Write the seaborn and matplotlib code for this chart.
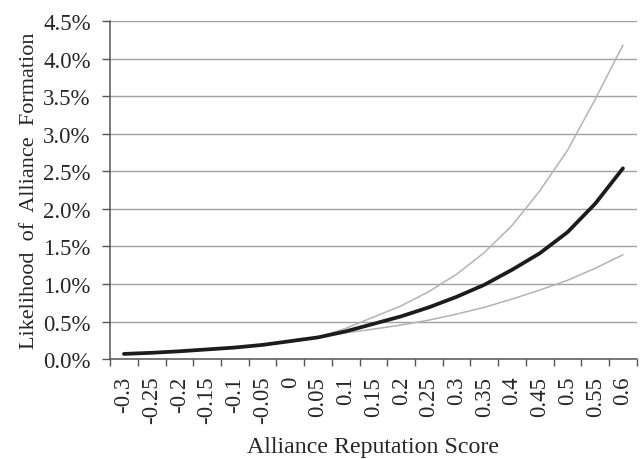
import numpy as np
import pandas as pd
import seaborn as sns
import matplotlib.pyplot as plt
from matplotlib.ticker import FixedLocator, PercentFormatter

# -----------------------------
# Data (likelihood in %)
# -----------------------------
scores = [-0.3, -0.25, -0.2, -0.15, -0.1, -0.05, 0, 0.05, 0.1, 0.15,
          0.2, 0.25, 0.3, 0.35, 0.4, 0.45, 0.5, 0.55, 0.6]
score_labels = ["-0.3", "-0.25", "-0.2", "-0.15", "-0.1", "-0.05", "0", "0.05", "0.1", "0.15",
                "0.2", "0.25", "0.3", "0.35", "0.4", "0.45", "0.5", "0.55", "0.6"]
estimate = [0.07, 0.085, 0.105, 0.13, 0.155, 0.19, 0.24, 0.29, 0.37, 0.47,
            0.57, 0.69, 0.83, 0.99, 1.19, 1.41, 1.69, 2.07, 2.54]
upper = [0.065, 0.08, 0.10, 0.125, 0.15, 0.19, 0.24, 0.29, 0.41, 0.56,
         0.71, 0.90, 1.13, 1.42, 1.78, 2.24, 2.78, 3.46, 4.18]
lower = [0.075, 0.09, 0.11, 0.135, 0.16, 0.195, 0.24, 0.29, 0.35, 0.40,
         0.455, 0.52, 0.60, 0.69, 0.80, 0.92, 1.05, 1.21, 1.39]

df = pd.DataFrame({"score": scores, "estimate": estimate, "upper": upper, "lower": lower})

sns.set_theme(style="white")
plt.rcParams["font.family"] = ["Liberation Serif", "DejaVu Serif"]

fig = plt.figure(figsize=(6.4, 4.6), dpi=100)
ax = fig.add_axes([0.172, 0.217, 0.823, 0.735])

sns.lineplot(data=df, x="score", y="upper", color="#b3b3b3", linewidth=1.1, ax=ax)
sns.lineplot(data=df, x="score", y="lower", color="#b3b3b3", linewidth=1.1, ax=ax)
sns.lineplot(data=df, x="score", y="estimate", color="#1c1c1c", linewidth=2.7, ax=ax)

# category-style x axis: tick marks between categories, labels on the categories
ax.set_xlim(-0.325, 0.625)
ax.xaxis.set_major_locator(FixedLocator([-0.325 + 0.05 * k for k in range(20)]))
ax.xaxis.set_minor_locator(FixedLocator(scores))
ax.set_xticklabels([], minor=False)
ax.set_xticklabels(score_labels, minor=True, rotation=90, fontsize=16.5)
ax.tick_params(axis="x", which="major", direction="out", length=5, width=1, color="#555555", bottom=True)
ax.tick_params(axis="x", which="minor", length=0, pad=12, bottom=True)

ax.set_ylim(0, 4.5)
ax.set_yticks(np.arange(0, 4.51, 0.5))
ax.yaxis.set_major_formatter(PercentFormatter(decimals=1))
ax.tick_params(axis="y", direction="out", length=6, width=1, color="#555555", labelsize=16.5, left=True, pad=8)
ax.grid(axis="y", color="#a0a0a0", linewidth=1)

for side in ["top", "right"]:
    ax.spines[side].set_visible(False)
for side in ["left", "bottom"]:
    ax.spines[side].set_color("#555555")
    ax.spines[side].set_linewidth(1.1)

ax.set_xlabel("Alliance Reputation Score", fontsize=17.2, labelpad=9)
ax.set_ylabel("Likelihood  of  Alliance  Formation", fontsize=16, labelpad=3)

plt.savefig("out.png", dpi=100)
